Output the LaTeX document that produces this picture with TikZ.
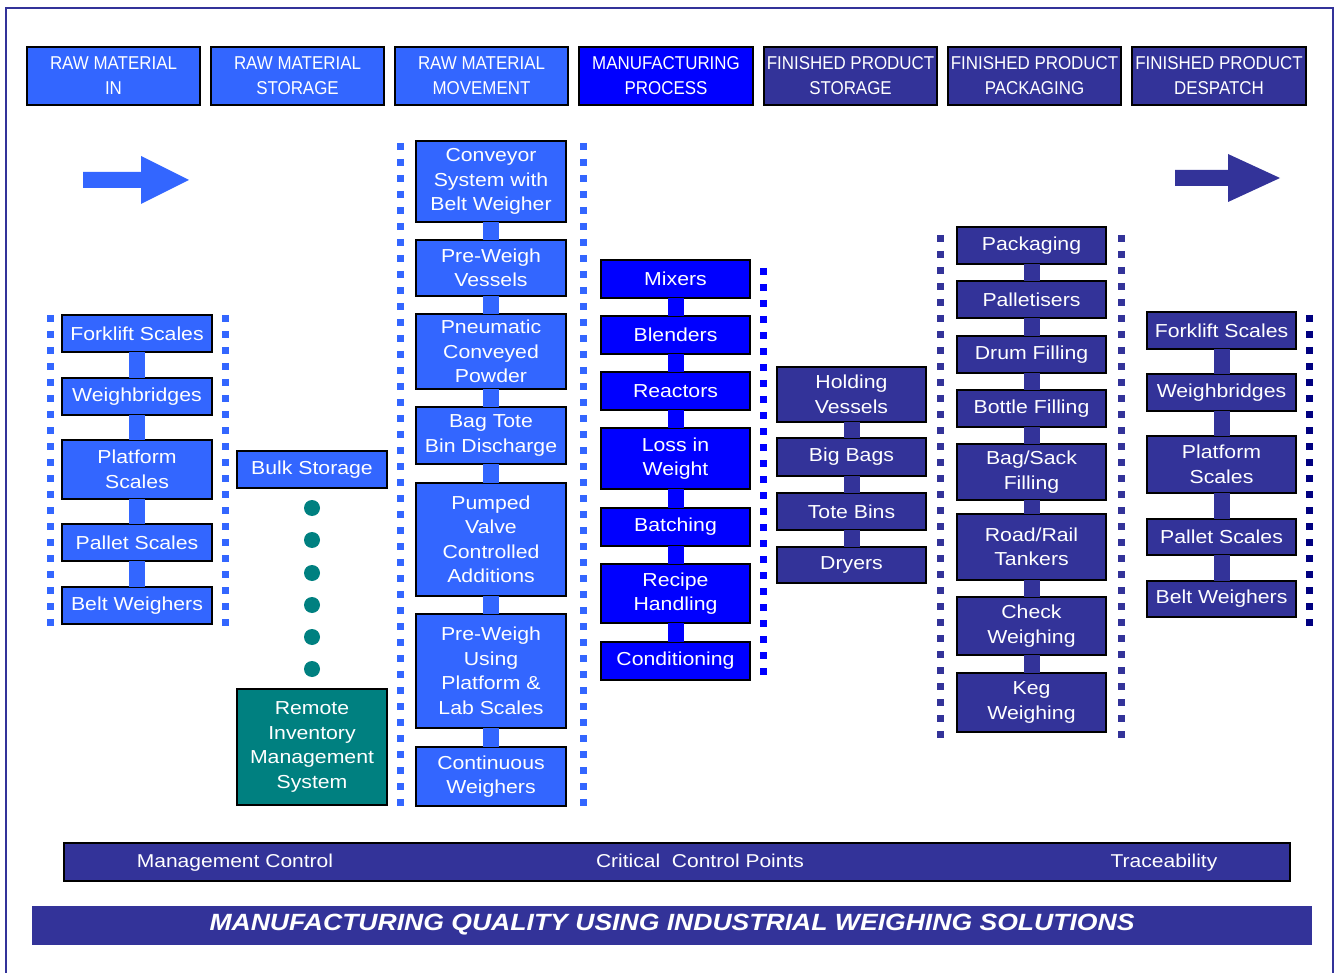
\documentclass[tikz,border=0pt]{standalone}
\usepackage{fontspec}
\setmainfont{Liberation Sans}[FakeStretch=1.13]
\newfontfamily\hdrfont{Liberation Sans}[FakeStretch=0.91]
\definecolor{lblue}{HTML}{3366FF}
\definecolor{bblue}{HTML}{0000FF}
\definecolor{navy}{HTML}{333399}
\definecolor{tealc}{HTML}{008080}
\definecolor{dnavy}{HTML}{000080}
\newcommand\bx[7]{\node[box,fill=#6,minimum width={(#4-#2)*1pt},minimum height={(#5-#3)*1pt}] (#1) at ({(#2+#4)/2},{(#3+#5)/2}) {#7};}
\newcommand\hd[5]{\node[hdrbox,fill=#4,minimum width={(#3-#2)*1pt}] (#1) at ({(#2+#3)/2},76) {#5};}
\begin{document}
\begin{tikzpicture}[x=1pt,y=-1pt,
  box/.style={draw=black,line width=1.6pt,text=white,align=center,inner sep=0pt,outer sep=0pt,
    font={\fontsize{18.8}{24.5}\selectfont}},
  hdrbox/.style={draw=black,line width=1.6pt,text=white,align=center,inner sep=0pt,outer sep=0pt,
    minimum height=58pt,font={\hdrfont\fontsize{18.6}{25}\selectfont}},
  conn/.style={line width=16pt},
  dotline/.style={line width=7pt,dash pattern=on 7pt off 9pt},
  tdot/.style={circle,fill=tealc,inner sep=0pt,minimum size=16pt},
  bartext/.style={text=white,anchor=base,inner sep=0pt,font={\fontsize{18.6}{22}\selectfont}}]
\useasboundingbox (0,0) rectangle (1336,973);
% frame
\draw[navy,line width=1.5pt] (6,980) -- (6,8) -- (1333,8) -- (1333,980);
% headers
\hd{h1}{27}{200}{lblue}{RAW MATERIAL\\IN}
\hd{h2}{211}{384}{lblue}{RAW MATERIAL\\STORAGE}
\hd{h3}{395}{568}{lblue}{RAW MATERIAL\\MOVEMENT}
\hd{h4}{579}{753}{bblue}{MANUFACTURING\\PROCESS}
\hd{h5}{764}{937}{navy}{FINISHED PRODUCT\\STORAGE}
\hd{h6}{948}{1121}{navy}{FINISHED PRODUCT\\PACKAGING}
\hd{h7}{1132}{1306}{navy}{FINISHED PRODUCT\\DESPATCH}
% arrows
\fill[lblue] (83,172) -- (141,172) -- (141,156) -- (189,180) -- (141,204) -- (141,188) -- (83,188) -- cycle;
\fill[navy] (1175,170) -- (1228,170) -- (1228,154) -- (1280,178) -- (1228,202) -- (1228,186) -- (1175,186) -- cycle;
% dotted lines
\draw[dotline,lblue] (50,315) -- (50,627);
\draw[dotline,lblue] (225,315) -- (225,627);
\draw[dotline,lblue] (400,143) -- (400,807);
\draw[dotline,lblue] (583,143) -- (583,807);
\draw[dotline,bblue] (763,268) -- (763,676);
\draw[dotline,navy] (940,235) -- (940,738);
\draw[dotline,navy] (1121,235) -- (1121,738);
\draw[dotline,dnavy] (1309,315) -- (1309,627);
% column 1
\bx{a1}{62}{315}{212}{352}{lblue}{Forklift Scales}
\bx{a2}{62}{378}{212}{415}{lblue}{Weighbridges}
\bx{a3}{62}{440}{212}{499}{lblue}{Platform\\Scales}
\bx{a4}{62}{524}{212}{561}{lblue}{Pallet Scales}
\bx{a5}{62}{587}{212}{624}{lblue}{Belt Weighers}
\foreach \u/\v in {a1/a2,a2/a3,a3/a4,a4/a5} \draw[conn,lblue] (\u.south) -- (\v.north);
% column 2
\bx{b1}{237}{451}{387}{488}{lblue}{Bulk Storage}
\foreach \i/\y in {1/508,2/540,3/573,4/605,5/637,6/669} \node[tdot] (td\i) at (312,\y) {};
\bx{b2}{237}{689}{387}{805}{tealc}{Remote\\Inventory\\Management\\System}
% column 3
\bx{c1}{416}{141}{566}{222}{lblue}{Conveyor\\System with\\Belt Weigher}
\bx{c2}{416}{240}{566}{296}{lblue}{Pre-Weigh\\Vessels}
\bx{c3}{416}{314}{566}{389}{lblue}{Pneumatic\\Conveyed\\Powder}
\bx{c4}{416}{407}{566}{464}{lblue}{Bag Tote\\Bin Discharge}
\bx{c5}{416}{483}{566}{596}{lblue}{Pumped\\Valve\\Controlled\\Additions}
\bx{c6}{416}{614}{566}{728}{lblue}{Pre-Weigh\\Using\\Platform \&\\Lab Scales}
\bx{c7}{416}{747}{566}{806}{lblue}{Continuous\\Weighers}
\foreach \u/\v in {c1/c2,c2/c3,c3/c4,c4/c5,c5/c6,c6/c7} \draw[conn,lblue] (\u.south) -- (\v.north);
% column 4
\bx{m1}{601}{260}{750}{298}{bblue}{Mixers}
\bx{m2}{601}{316}{750}{354}{bblue}{Blenders}
\bx{m3}{601}{372}{750}{410}{bblue}{Reactors}
\bx{m4}{601}{428}{750}{489}{bblue}{Loss in\\Weight}
\bx{m5}{601}{508}{750}{546}{bblue}{Batching}
\bx{m6}{601}{564}{750}{623}{bblue}{Recipe\\Handling}
\bx{m7}{601}{642}{750}{680}{bblue}{Conditioning}
\foreach \u/\v in {m1/m2,m2/m3,m3/m4,m4/m5,m5/m6,m6/m7} \draw[conn,bblue] (\u.south) -- (\v.north);
% column 5
\bx{s1}{777}{367}{926}{422}{navy}{Holding\\Vessels}
\bx{s2}{777}{438}{926}{476}{navy}{Big Bags}
\bx{s3}{777}{493}{926}{530}{navy}{Tote Bins}
\bx{s4}{777}{547}{926}{583}{navy}{Dryers}
\foreach \u/\v in {s1/s2,s2/s3,s3/s4} \draw[conn,navy] (\u.south) -- (\v.north);
% column 6
\bx{p1}{957}{227}{1106}{264}{navy}{Packaging}
\bx{p2}{957}{281}{1106}{318}{navy}{Palletisers}
\bx{p3}{957}{336}{1106}{373}{navy}{Drum Filling}
\bx{p4}{957}{390}{1106}{427}{navy}{Bottle Filling}
\bx{p5}{957}{444}{1106}{500}{navy}{Bag/Sack\\Filling}
\bx{p6}{957}{514}{1106}{580}{navy}{Road/Rail\\Tankers}
\bx{p7}{957}{597}{1106}{655}{navy}{Check\\Weighing}
\bx{p8}{957}{673}{1106}{732}{navy}{Keg\\Weighing}
\foreach \u/\v in {p1/p2,p2/p3,p3/p4,p4/p5,p5/p6,p6/p7,p7/p8} \draw[conn,navy] (\u.south) -- (\v.north);
% column 7
\bx{r1}{1147}{312}{1296}{349}{navy}{Forklift Scales}
\bx{r2}{1147}{374}{1296}{411}{navy}{Weighbridges}
\bx{r3}{1147}{436}{1296}{493}{navy}{Platform\\Scales}
\bx{r4}{1147}{519}{1296}{555}{navy}{Pallet Scales}
\bx{r5}{1147}{581}{1296}{617}{navy}{Belt Weighers}
\foreach \u/\v in {r1/r2,r2/r3,r3/r4,r4/r5} \draw[conn,navy] (\u.south) -- (\v.north);
% bottom bars
\node[draw=black,line width=2.5pt,fill=navy,minimum width=1226pt,minimum height=38pt,inner sep=0pt] (ctrl) at (677,862) {};
\node[bartext] (mc) at (235,867) {Management Control};
\node[bartext] (cc) at (700,867) {Critical\ \ Control Points};
\node[bartext] (tr) at (1164,867) {Traceability};
\node[fill=navy,minimum width=1280pt,minimum height=39pt,inner sep=0pt,text=white,
  font={\bfseries\itshape\fontsize{23.5}{26}\selectfont}] (title) at (672,925) {MANUFACTURING QUALITY USING INDUSTRIAL WEIGHING SOLUTIONS};
\end{tikzpicture}
\end{document}
